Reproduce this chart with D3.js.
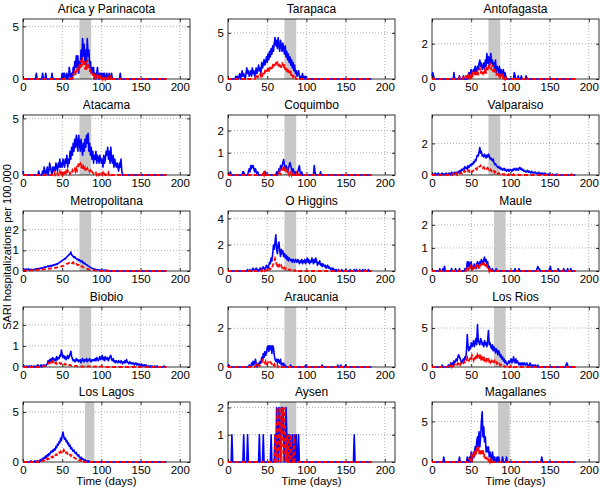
<!DOCTYPE html>
<html><head><meta charset="utf-8">
<script src="https://cdn.jsdelivr.net/npm/d3@7"></script>
<style>body{margin:0;background:#fff}svg{display:block;font-family:"Liberation Sans",Arial,Helvetica,sans-serif}</style>
</head><body><svg id="c" width="600" height="490"></svg>
<script>
const regions = ["Arica y Parinacota","Tarapaca","Antofagasta","Atacama","Coquimbo","Valparaiso","Metropolitana","O Higgins","Maule","Biobio","Araucania","Los Rios","Los Lagos","Aysen","Magallanes"];
const yMax = [5.7,6.5,3.4,5.3,2.7,3.8,2.9,4.56,2.6,2.85,3.1,7.7,6.0,2.2,7.4];
const yTicks = [[0,5],[0,5],[0,2],[0,5],[0,1,2],[0,2],[0,1,2],[0,2,4],[0,1,2],[0,1,2],[0,2],[0,5],[0,5],[0,1,2],[0,5]];
const xTicks = [0,50,100,150,200];
const bandStart = [72,72,72,72,72,72,72,72,79,72,72,79,79,66,84];
const bandEnd   = [87,87,87,87,87,87,87,87,94,87,87,94,91,87,99];
const lastDay = 183;
const blueStart = [15,10,0,0,0,0,0,20,10,0,0,0,10,0,0];
const blueValues = [
 [0,0,0.55,0,0,0,0,0,0,0, 0.55,0,0,0,0.55,0,0,0,0,0, 0,0,0.55,0,0,0,0,0,0,0, 0,0,0,0,0,0.55,0,0.55,0.55,0, 0,0.55,0,0,1.1,0.55,0,0.55,0,1.1, 0.55,1.65,1.1,2.2,1.1,2.2,0.55,1.65,1.1,2.75, 1.65,3.85,2.2,3.3,1.65,2.75,1.1,3.85,2.2,2.75, 1.1,1.65,0.55,1.1,0.55,1.1,0,0.55,0,0.55, 1.1,0,0.55,0,0.55,0.55,0,0.55,0,0.55, 0,0,0.55,0,0,0.55,0,0,0.55,0, 0,0,0,0,0,0,0,0,0,0.55,0],
 [0.3,0,0.3,0,0.3,0.6,0,0.3,0.9,0.3, 0.6,0.3,0,0.6,1.2,0.6,0.9,0.3,0.6,0.9, 0.3,1.2,0.6,0.9,0.3,0.6,1.2,0.6,0.9,1.5, 0.9,1.2,0.6,1.8,1.2,1.5,2.1,1.5,1.8,2.4, 1.8,2.7,2.1,3.0,2.4,3.3,2.7,3.6,3.0,3.9, 4.5,3.6,4.2,3.3,4.5,3.6,3.0,4.2,3.6,3.0, 3.9,3.3,2.7,3.6,2.4,3.0,2.1,2.7,1.8,2.4, 1.5,2.1,1.2,1.8,0.9,1.5,0.6,0.9,0.3,0.6, 0.9,0.3,0,0.3,0,0.6,0,0.3,0,0.3,0],
 [0.18,0.36,0.18,0,0,0,0,0,0,0, 0,0,0,0,0,0,0,0,0,0, 0,0,0,0,0,0,0,0,0.36,0, 0,0,0,0,0,0.18,0,0,0,0, 0.18,0,0,0,0,0.18,0,0.36,0.18,0.36, 0.54,0.18,0.36,0.54,0.36,0.72,0.36,0.54,0.72,0.54, 0.9,1.08,0.72,0.9,0.54,0.72,0.9,0.54,1.08,0.72, 1.44,0.9,1.26,0.72,1.08,1.44,0.9,1.08,0.72,0.9, 0.54,1.08,0.36,0.72,0.54,0.36,0.72,0.18,0.54,0.36, 0.18,0.54,0,0.36,0.18,0,0,0,0,0, 0,0,0,0,0,0.36,0.18,0,0,0, 0.18,0,0,0,0.18,0,0,0,0,0,0.18,0],
 [0.35,0,0,0,0,0,0,0,0,0, 0,0,0,0,0,0,0,0,0,0, 0.35,0,0,0,0,0.35,0,0.7,0.35,0, 0.35,0.7,0,0.35,1.05,0.7,0.35,0,0.7,0.35, 0.7,0.35,1.05,0.7,0.35,1.05,0.7,1.4,0.7,1.05, 0.7,1.4,1.05,0.7,1.4,1.05,1.75,0.7,1.4,1.05, 2.1,1.4,2.45,1.75,2.8,2.1,3.15,2.45,3.5,2.8, 2.1,3.5,2.8,2.1,3.15,2.45,1.75,2.8,2.1,3.15, 2.45,3.5,2.8,3.68,2.1,2.8,1.75,2.45,1.4,2.1, 1.05,1.75,1.4,2.1,1.05,1.75,1.4,1.05,1.75,1.4, 1.05,1.4,0.7,1.75,1.05,1.4,2.1,1.75,2.45,1.4, 2.1,1.05,2.45,1.4,1.05,1.75,0.7,1.4,1.05,0.7, 1.05,0.7,0.35,1.05,0.7,1.4,0.35,0],
 [0,0,0,0.14,0,0,0,0,0,0, 0,0,0,0,0,0,0,0,0,0.14, 0.14,0,0,0,0,0,0.14,0.28,0.14,0.42, 0.28,0.42,0.42,0.28,0.14,0.28,0.14,0,0.14,0, 0,0,0,0,0,0,0.14,0,0.14,0, 0,0,0,0,0,0,0,0,0,0, 0,0,0.14,0,0.14,0.28,0.14,0.42,0.28,0.42, 0.56,0.7,0.42,0.28,0.42,0.28,0.14,0.28,0.42,0.56, 0.42,0.28,0.14,0.28,0.14,0,0.14,0,0,0.14, 0.28,0.42,0.14,0,0.14,0,0,0,0,0, 0,0,0,0,0,0,0,0,0,0, 0.42,0.14,0,0,0,0,0,0,0.14,0],
 [0.06,0,0.06,0,0.12,0.06,0,0.06,0.12,0, 0.06,0,0.06,0.12,0,0.06,0.06,0,0.12,0.06, 0,0.06,0.12,0.06,0,0.18,0.06,0.12,0.06,0.18, 0.12,0.06,0.18,0.12,0.24,0.18,0.3,0.24,0.36,0.3, 0.42,0.36,0.54,0.42,0.48,0.36,0.6,0.48,0.54,0.66, 0.6,0.72,0.66,0.84,0.78,0.96,0.9,1.14,1.26,1.2, 1.44,1.74,1.38,1.5,1.2,1.26,1.14,1.32,1.2,1.08, 1.26,1.14,1.32,1.2,1.02,1.08,0.96,0.9,1.02,0.78, 0.66,0.72,0.6,0.54,0.48,0.54,0.42,0.48,0.36,0.42, 0.3,0.36,0.42,0.3,0.36,0.24,0.3,0.36,0.24,0.3, 0.36,0.3,0.24,0.36,0.3,0.42,0.36,0.3,0.42,0.36, 0.3,0.42,0.48,0.36,0.42,0.3,0.36,0.24,0.3,0.24, 0.18,0.24,0.3,0.18,0.24,0.18,0.12,0.24,0.18,0.12, 0.18,0.12,0.18,0.12,0.06,0.12,0.18,0.12,0.06,0.12, 0.06,0.12,0.06,0.06,0.12,0.06,0,0.06,0,0.06, 0,0.06,0,0,0.06,0,0,0,0,0.06, 0,0,0,0,0,0,0,0,0,0, 0,0,0,0,0,0,0,0,0.06,0],
 [0.08,0.1,0.06,0.08,0.1,0.06,0.08,0.1,0.05,0.08, 0.06,0.08,0.05,0.07,0.06,0.08,0.1,0.08,0.12,0.1, 0.12,0.1,0.14,0.12,0.15,0.13,0.16,0.18,0.2,0.17, 0.2,0.22,0.25,0.2,0.24,0.26,0.22,0.28,0.25,0.3, 0.28,0.32,0.3,0.35,0.33,0.38,0.4,0.42,0.45,0.48, 0.5,0.52,0.55,0.6,0.58,0.65,0.68,0.72,0.75,0.8, 0.82,0.92,0.78,0.75,0.7,0.65,0.7,0.62,0.6,0.55, 0.58,0.5,0.55,0.48,0.45,0.5,0.4,0.42,0.35,0.38, 0.32,0.3,0.28,0.25,0.22,0.2,0.18,0.15,0.13,0.12, 0.1,0.09,0.08,0.07,0.06,0.06,0.05,0.05,0.04,0.04, 0.04,0.03,0.04,0.03,0.03,0.02,0.03,0.02,0.03,0.02,0],
 [0,0,0,0,0,0.11,0,0,0.11,0, 0,0.11,0.22,0.11,0,0.11,0.22,0.11,0.11,0, 0.11,0.22,0.11,0.22,0.11,0.33,0.22,0.11,0.22,0.44, 0.33,0.22,0.44,0.66,0.55,0.99,0.77,1.32,1.98,1.65, 2.2,2.75,1.65,1.32,1.98,2.2,1.54,1.1,1.65,1.32, 1.54,1.1,1.32,0.99,1.21,0.88,1.1,0.77,0.99,0.88, 0.77,0.88,0.66,0.88,0.77,0.66,0.88,0.77,0.66,0.88, 0.77,0.55,0.77,0.66,0.88,0.55,0.77,0.66,0.88,0.55, 0.77,0.99,0.66,0.88,0.55,0.77,0.66,0.99,0.77,0.55, 0.88,0.66,0.99,0.77,0.44,0.66,0.55,0.77,0.44,0.55, 0.33,0.55,0.44,0.33,0.44,0.22,0.33,0.44,0.22,0.33, 0.22,0.11,0.22,0.11,0.22,0,0.11,0,0.11,0, 0,0.11,0,0,0,0.11,0,0,0,0, 0.11,0,0,0,0,0,0.11,0,0,0, 0,0.11,0,0,0.11,0,0,0,0.11,0, 0,0,0.11,0,0,0.11,0,0,0,0.11,0],
 [0.1,0,0,0,0.1,0,0.2,0,0,0, 0,0,0,0,0,0.1,0,0,0,0, 0.1,0,0,0,0,0.1,0,0,0,0, 0,0,0.1,0,0.1,0.4,0.2,0.4,0.1,0.3, 0.4,0.1,0.2,0.1,0.3,0.2,0.1,0.3,0.4,0.2, 0.3,0.4,0.3,0.5,0.4,0.3,0.5,0.6,0.4,0.5, 0.3,0.4,0.1,0.2,0.1,0,0,0.1,0,0, 0,0,0.1,0,0,0,0,0,0,0, 0,0,0,0,0,0,0,0,0,0, 0,0,0,0,0,0,0.1,0,0,0, 0,0.1,0,0,0,0,0,0,0,0, 0,0,0,0,0,0,0,0,0,0, 0,0,0,0,0.1,0.2,0.1,0.1,0,0, 0,0,0,0,0,0,0,0,0,0, 0.1,0.2,0,0,0,0,0,0,0,0, 0,0.1,0,0,0,0,0,0,0.1,0, 0,0,0,0.1,0,0,0,0.1,0],
 [0.05,0,0.05,0,0,0.05,0,0,0.05,0.05, 0,0.05,0,0,0.05,0,0,0.05,0,0.1, 0.05,0,0.05,0.1,0,0.05,0.1,0.05,0.1,0.05, 0.1,0.15,0.3,0.2,0.35,0.25,0.4,0.3,0.45,0.35, 0.3,0.4,0.3,0.5,0.35,0.45,0.4,0.55,0.5,0.8, 0.6,0.45,0.55,0.4,0.5,0.35,0.45,0.55,0.4,0.5, 0.6,0.75,0.5,0.4,0.3,0.35,0.25,0.3,0.4,0.3, 0.35,0.25,0.3,0.35,0.2,0.3,0.4,0.3,0.25,0.35, 0.3,0.4,0.25,0.35,0.3,0.4,0.3,0.25,0.35,0.3, 0.35,0.3,0.4,0.3,0.45,0.35,0.3,0.4,0.5,0.35, 0.4,0.55,0.35,0.45,0.3,0.5,0.4,0.35,0.45,0.3, 0.4,0.5,0.55,0.35,0.3,0.4,0.25,0.3,0.2,0.3, 0.25,0.2,0.3,0.25,0.2,0.3,0.25,0.15,0.25,0.2, 0.3,0.2,0.35,0.25,0.2,0.15,0.25,0.2,0.15,0.2, 0.15,0.2,0.1,0.15,0.2,0.1,0.15,0.1,0.15,0.05, 0.1,0.15,0.05,0.1,0.05,0.1,0.05,0.1,0.05,0, 0.05,0,0.05,0,0.05,0.05,0,0,0.05,0, 0,0.05,0,0,0,0,0,0,0,0,0.05,0],
 [0,0.1,0.05,0,0,0,0,0,0,0, 0,0,0,0,0,0,0,0,0,0, 0,0,0,0,0,0,0,0.1,0,0, 0.2,0.1,0.3,0.1,0.2,0.4,0.2,0,0.1,0.2, 0.1,0.3,0.2,0.5,0.3,0.7,0.5,0.8,0.6,0.7, 1.0,1.1,0.8,1.1,0.9,1.1,0.7,1.1,1.0,0.6, 0.4,0.3,0.4,0.2,0.4,0.3,0.2,0.4,0.1,0.2, 0.1,0.2,0,0.1,0,0,0,0,0,0, 0.1,0,0,0,0,0,0,0,0,0, 0,0,0,0,0,0,0,0,0,0.1, 0,0,0,0,0,0,0,0,0,0, 0,0,0,0,0,0,0,0,0,0, 0.1,0,0,0,0,0,0,0,0,0, 0,0,0,0,0,0,0,0,0,0, 0.1,0,0,0,0.1,0,0,0,0,0, 0.1,0],
 [0,0,0,0,0,0,0,0,0,0, 0,0,0,0.26,0,0,0,0,0,0, 0,0.26,0,0.26,0.52,0.26,0.52,0.26,0.78,0.52, 0.78,1.04,0.78,1.3,1.56,1.3,1.04,0.78,0.52,0.78, 1.04,0.78,1.3,1.04,2.08,4.16,2.6,2.08,2.6,2.34, 3.12,2.6,2.86,3.38,2.6,3.12,3.64,2.86,5.46,3.38, 3.12,2.86,3.64,3.38,2.86,3.12,2.6,3.38,2.86,3.12, 2.6,3.38,4.68,2.86,3.12,2.6,2.34,2.86,2.08,2.6, 2.34,1.82,2.34,2.08,1.56,2.08,1.82,1.3,1.56,1.04, 1.3,0.78,1.04,0.52,0.78,0.52,0.26,0.52,0.78,0.52, 0.78,1.04,0.52,0.78,1.3,0.78,0.52,1.04,0.52,0.78, 0.52,0.26,0.52,0.26,0.52,0.26,0.52,0.26,0.52,0.26, 0.26,0.52,0.26,0,0.26,0.52,0.26,0,0.26,0, 0.26,0,0.26,0,0,0.26,0,0,0,0, 0,0,0,0,0,0,0,0,0,0, 0,0,0,0,0,0,0,0,0,0, 0,0,0,0,0,0,0,0,0,0, 0,0.26,0.52,0.26,0],
 [0.12,0,0,0,0,0.12,0,0,0.12,0, 0.12,0,0.24,0.12,0.24,0.36,0.24,0.48,0.36,0.6, 0.48,0.72,0.6,0.84,0.72,0.96,1.08,0.96,1.2,1.08, 1.32,1.2,1.56,1.44,1.8,1.68,2.04,1.92,2.4,2.16, 2.64,3.0,2.52,2.28,2.4,2.04,2.16,1.8,1.92,1.56, 1.68,1.32,1.44,1.2,1.08,1.2,0.96,0.84,0.96,0.72, 0.6,0.72,0.48,0.36,0.48,0.24,0.36,0.24,0.12,0.24, 0.12,0,0.12,0,0.12,0],
 [0,0,0,0,0,1,0,0,0,0, 0,0,0,0,0,0,0,0,0,0, 1,0,0,0,0,1,0,0,0,0, 0,0,0,0,0,0,0,0,0,0, 1,0,0,0,0,1,0,0,0,0, 0,0,0,0,0,1,0,0,0,0, 1,0,2,1,0,2,1,0,2,1, 2,1,0,1,2,1,0,1,0,1, 0,0,1,0,0,1,0,1,0,0, 1,0,0,0,0,0,0,0,0,0, 0,0,0,0,0,0,0,0,0,0, 0,0,0,0,0,0,0,0,0,0, 0,0,0,0,0,0,0,0,0,0, 0,0,0,0,0,0,0,0,0,0, 0,0,0,0,0,0,0,0,0,0, 0,0,0,0,0,0,0,0,0,0, 0,1,0],
 [0,0,0,0,0,0,0,0,0,0, 0,0,0,0,0,0.62,0,0,0,0, 0,0,0,0,0,0,0,0,0,0, 0,0,0,0,0,0.62,0,0,0,0, 0,0,0,0,0,0.62,0,0,0.62,0, 1.24,0,0.62,1.24,0.62,1.86,1.24,2.48,3.1,1.86, 3.72,1.86,3.1,4.96,6.2,3.1,4.34,2.48,3.1,1.24, 1.86,1.24,1.86,0.62,1.24,0.62,0,1.24,0.62,0, 0.62,0,0,0.62,0,0.62,0,0,0,0, 0.62,0,0,0,0,0.62,0,0,0,0, 0,0,0,0,0,0,0,0,0,0, 0,0,0,0,0,0,0,0,0,0, 0,0,0,0,0,0,0,0,0,0, 0,0,0,0,0,0,0,0,0,0, 0.62,0]
];
const redStart = [62,35,35,40,45,25,0,40,40,25,35,20,20,55,45];
const redValues = [
 [0.3,0,0.5,0.3,0.8,0.4,1.0,0.6,1.2,0.8, 1.4,1.0,1.8,1.2,2.0,1.4,1.7,0.9,1.6,0.8, 1.8,1.1,1.4,0.7,1.0,0.5,0.7,0.3,0.6,0.2, 0.4,0,0.3,0.4,0,0.3,0,0.4,0.2,0, 0.3,0,0.3,0,0.2,0,0,0.3,0,0,0.2,0],
 [0.2,0,0.3,0.2,0.4,0.3,0.5,0.3,0.6,0.4, 0.7,0.5,0.8,0.6,1.0,0.7,1.2,0.8,1.1,0.9, 1.3,1.0,1.4,1.2,1.6,1.3,1.8,1.5,1.9,1.4, 1.7,1.3,1.6,1.2,1.8,1.5,1.2,1.6,1.0,1.3, 0.8,1.1,0.6,0.9,0.5,0.7,0.3,0.5,0.2,0.3, 0.1,0.2,0],
 [0.1,0,0,0,0,0.1,0,0,0.2,0, 0.1,0.2,0,0.3,0.1,0.2,0.3,0.1,0.4,0.2, 0.3,0.5,0.2,0.4,0.3,0.5,0.6,0.3,0.5,0.4, 0.3,0.5,0.4,0.6,0.3,0.7,0.5,0.8,0.6,0.9, 0.7,0.5,0.8,0.4,0.6,0.3,0.5,0.2,0.4,0.3, 0.2,0.3,0.1,0.2,0.1,0.2,0,0.1,0,0.2, 0,0,0,0,0,0,0,0,0,0, 0.1,0,0,0,0,0,0,0,0,0, 0,0,0,0,0,0,0.1,0],
 [0.2,0,0.1,0,0.2,0,0.1,0.3,0,0.2, 0,0.3,0.1,0.2,0,0.3,0.1,0.4,0.2,0.3, 0.1,0.3,0.2,0.4,0.2,0.3,0.5,0.3,0.6,0.4, 0.7,1.1,0.9,1.0,0.6,0.8,0.5,0.7,0.4,0.6, 0.3,0.5,0.6,0.4,0.5,0.3,0.4,0.2,0.3,0.2, 0.1,0.2,0.1,0.2,0,0.1,0.2,0,0.1,0, 0.1,0,0.2,0,0.1,0,0,0.1,0,0.2,0,0.1,0],
 [0.1,0,0.14,0.1,0,0,0,0,0,0, 0,0,0,0,0,0,0,0,0,0, 0.1,0.2,0,0.14,0.28,0.14,0.42,0.28,0.14,0.1, 0.2,0.28,0.1,0,0.1,0.14,0,0.1,0,0, 0,0,0.1,0,0,0.1,0],
 [0.05,0,0.05,0.1,0,0.05,0.1,0,0.05,0.1, 0.05,0.1,0.15,0.1,0.2,0.15,0.25,0.2,0.3,0.25, 0.2,0.25,0.3,0.2,0.25,0.3,0.2,0.25,0.3,0.35, 0.3,0.4,0.35,0.45,0.4,0.5,0.55,0.6,0.5,0.55, 0.45,0.5,0.4,0.45,0.35,0.4,0.45,0.35,0.4,0.3, 0.35,0.25,0.3,0.2,0.25,0.15,0.2,0.1,0.15,0.1, 0.1,0.05,0.1,0.05,0.1,0.05,0.05,0,0.05,0, 0.05,0,0,0.05,0,0,0.05,0,0,0.05,0],
 [0.02,0.03,0.02,0.03,0.02,0.03,0.02,0.03,0.02,0.03, 0.03,0.04,0.03,0.04,0.05,0.04,0.05,0.06,0.05,0.06, 0.06,0.07,0.06,0.07,0.08,0.07,0.08,0.09,0.08,0.1, 0.1,0.11,0.12,0.1,0.12,0.13,0.12,0.14,0.13,0.15, 0.15,0.16,0.15,0.17,0.18,0.17,0.19,0.2,0.21,0.22, 0.23,0.25,0.26,0.28,0.3,0.32,0.35,0.36,0.38,0.4, 0.42,0.45,0.4,0.38,0.42,0.36,0.38,0.32,0.34,0.3, 0.28,0.3,0.25,0.27,0.22,0.24,0.2,0.18,0.16,0.14, 0.12,0.11,0.1,0.09,0.08,0.07,0.06,0.05,0.05,0.04, 0.04,0.03,0.03,0.02,0.02,0.02,0.01,0.01,0.01,0.01,0],
 [0,0.05,0,0.1,0,0.05,0.1,0,0.1,0.05, 0.1,0.15,0.1,0.2,0.15,0.3,0.25,0.4,0.55,0.7, 0.95,0.8,0.5,0.4,0.55,0.35,0.45,0.3,0.4,0.25, 0.35,0.2,0.25,0.15,0.2,0.1,0.15,0.1,0.1,0.05, 0.1,0.05,0.05,0,0.05,0,0.05,0,0,0.05,0],
 [0,0,0,0,0.1,0.2,0.1,0,0.1,0.2, 0.1,0.05,0.1,0.2,0.1,0.15,0.2,0.1,0.3,0.15, 0.2,0.1,0.25,0.3,0.2,0.35,0.2,0.3,0.25,0.35, 0.2,0.1,0.15,0,0.1,0],
 [0.02,0.03,0.05,0.04,0.06,0.08,0.12,0.15,0.2,0.18, 0.25,0.3,0.22,0.28,0.2,0.25,0.18,0.22,0.15,0.2, 0.22,0.18,0.2,0.15,0.18,0.2,0.15,0.12,0.15,0.1, 0.12,0.08,0.1,0.12,0.08,0.1,0.08,0.06,0.08,0.05, 0.06,0.05,0.04,0.05,0.04,0.03,0.04,0.03,0.03,0.02, 0.03,0.02,0.03,0.02,0.03,0.04,0.03,0.02,0.03,0.04, 0.03,0.02,0.03,0.04,0.03,0.02,0.03,0.02,0.03,0.02, 0.02,0.03,0.02,0.03,0.02,0.02,0.03,0.02,0.02,0.01,0],
 [0.05,0.1,0,0.05,0.1,0.05,0.1,0.15,0.2,0.35, 0.4,0.25,0.2,0.3,0.15,0.2,0.25,0.2,0.15,0.25, 0.2,0.15,0.2,0.1,0.15,0.05,0.1,0.05,0.1,0,0.05,0],
 [0.1,0,0.1,0,0.2,0,0.3,0.1,0.2,0.3, 0.2,0.4,0.3,0.5,0.4,0.6,0.3,0.5,0.4,0.6, 0.5,0.7,0.6,0.8,0.7,1.2,0.9,0.8,1.0,1.3, 1.1,1.5,1.2,0.9,1.4,1.1,1.3,1.0,1.5,1.2, 1.4,1.0,1.3,0.8,1.2,1.0,1.4,0.9,1.1,0.8, 1.2,0.9,1.0,0.7,0.9,0.6,0.8,0.5,0.7,0.6, 0.8,0.5,0.6,0.4,0.5,0.3,0.4,0.2,0.3,0.2, 0.1,0.2,0.1,0,0.1,0,0,0.1,0,0, 0.1,0,0,0.1,0],
 [0.05,0.1,0.05,0.1,0.15,0.1,0.2,0.15,0.25,0.2, 0.3,0.25,0.35,0.3,0.4,0.35,0.5,0.45,0.55,0.5, 0.65,0.6,0.75,0.7,0.85,0.8,0.95,0.9,1.05,1.0, 1.15,1.05,1.2,1.0,1.1,0.9,0.95,0.8,0.85,0.7, 0.75,0.6,0.65,0.5,0.55,0.45,0.4,0.35,0.3,0.25, 0.3,0.2,0.15,0.2,0.1,0.15,0.05,0.1,0,0.05,0],
 [0,0,0,0,0,1,0,1,2,0, 1,2,0,1,2,1,0,2,1,0, 1,0,1,0,0,1,0,0,0,1,0],
 [0,0,0,0.5,0,1.0,0,0.5,1.2,0.6, 1.5,0.8,1.8,1.2,2.0,1.0,1.6,0.8,1.4,1.0, 1.6,0.6,1.0,0.4,0.8,0.3,0.6,0.2,0.4,0,0.3,0]
];

const colX = [23, 228, 432], rowY = [19, 115, 211, 307, 402];
const pw = 167, ph = 60, xMaxDomain = 213;
const svg = d3.select("#c");

function series(start, vals){
  const out = [];
  for (let d = 0; d <= lastDay; d++){
    const i = d - start;
    out.push([d, (i >= 0 && i < vals.length) ? vals[i] : 0]);
  }
  return out;
}

regions.forEach((name, k) => {
  const col = k % 3, row = Math.floor(k / 3);
  const g = svg.append("g").attr("transform", `translate(${colX[col]},${rowY[row]})`);
  const x = d3.scaleLinear().domain([0, xMaxDomain]).range([0, pw]);
  const y = d3.scaleLinear().domain([0, yMax[k]]).range([ph, 0]);

  g.append("rect").attr("width", pw).attr("height", ph).attr("fill", "#fff");
  g.selectAll(".gx").data(xTicks.filter(t => t > 0)).join("line")
    .attr("x1", d => x(d)).attr("x2", d => x(d)).attr("y1", 0).attr("y2", ph)
    .attr("stroke", "#777").attr("stroke-width", 0.6).attr("stroke-dasharray", "1,2");
  g.selectAll(".gy").data(yTicks[k].filter(t => t > 0)).join("line")
    .attr("x1", 0).attr("x2", pw).attr("y1", d => y(d)).attr("y2", d => y(d))
    .attr("stroke", "#777").attr("stroke-width", 0.6).attr("stroke-dasharray", "1,2");
  g.append("rect").attr("x", x(bandStart[k])).attr("width", x(bandEnd[k]) - x(bandStart[k]))
    .attr("y", 0).attr("height", ph).attr("fill", "#c8c8c8");

  const fmt = d3.format("d");
  const ax = g.append("g").attr("transform", `translate(0,${ph})`)
    .call(d3.axisBottom(x).tickValues(xTicks).tickFormat(fmt).tickSizeInner(-3).tickSizeOuter(0).tickPadding(4));
  const ay = g.append("g")
    .call(d3.axisLeft(y).tickValues(yTicks[k]).tickFormat(fmt).tickSizeInner(-3).tickSizeOuter(0).tickPadding(4));
  const axT = g.append("g")
    .call(d3.axisTop(x).tickValues(xTicks).tickSizeInner(-3).tickSizeOuter(0).tickFormat(""));
  const ayR = g.append("g").attr("transform", `translate(${pw},0)`)
    .call(d3.axisRight(y).tickValues(yTicks[k]).tickSizeInner(-3).tickSizeOuter(0).tickFormat(""));
  [ax, ay, axT, ayR].forEach(a => {
    a.select(".domain").remove();
    a.selectAll("line").attr("stroke", "#000").attr("stroke-width", 0.8);
    a.selectAll("text").attr("fill", "#000").style("font-size", "11.5px")
      .style("font-family", '"Liberation Sans", Arial, sans-serif');
  });
  g.append("rect").attr("width", pw).attr("height", ph).attr("fill", "none")
    .attr("stroke", "#000").attr("stroke-width", 0.8);

  const line = d3.line().x(d => x(d[0])).y(d => y(d[1]));
  g.append("path").datum(series(blueStart[k], blueValues[k])).attr("d", line)
    .attr("fill", "none").attr("stroke", "#0000ff").attr("stroke-width", 1.6).attr("stroke-linejoin", "round");
  g.append("path").datum(series(redStart[k], redValues[k])).attr("d", line)
    .attr("fill", "none").attr("stroke", "#ff0000").attr("stroke-width", 1.8)
    .attr("stroke-dasharray", "4,2.5");

  g.append("text").attr("x", pw / 2).attr("y", -6).attr("text-anchor", "middle")
    .style("font-size", "12px").attr("fill", "#000").text(name);

  if (row === 4) {
    g.append("text").attr("x", pw / 2).attr("y", ph + 23).attr("text-anchor", "middle")
      .style("font-size", "11.5px").attr("fill", "#000").text("Time (days)");
  }
});

svg.append("text").attr("transform", "translate(11,247) rotate(-90)")
  .attr("text-anchor", "middle").style("font-size", "11px").attr("fill", "#000")
  .text("SARI hospitalizations per 100,000");
</script></body></html>
